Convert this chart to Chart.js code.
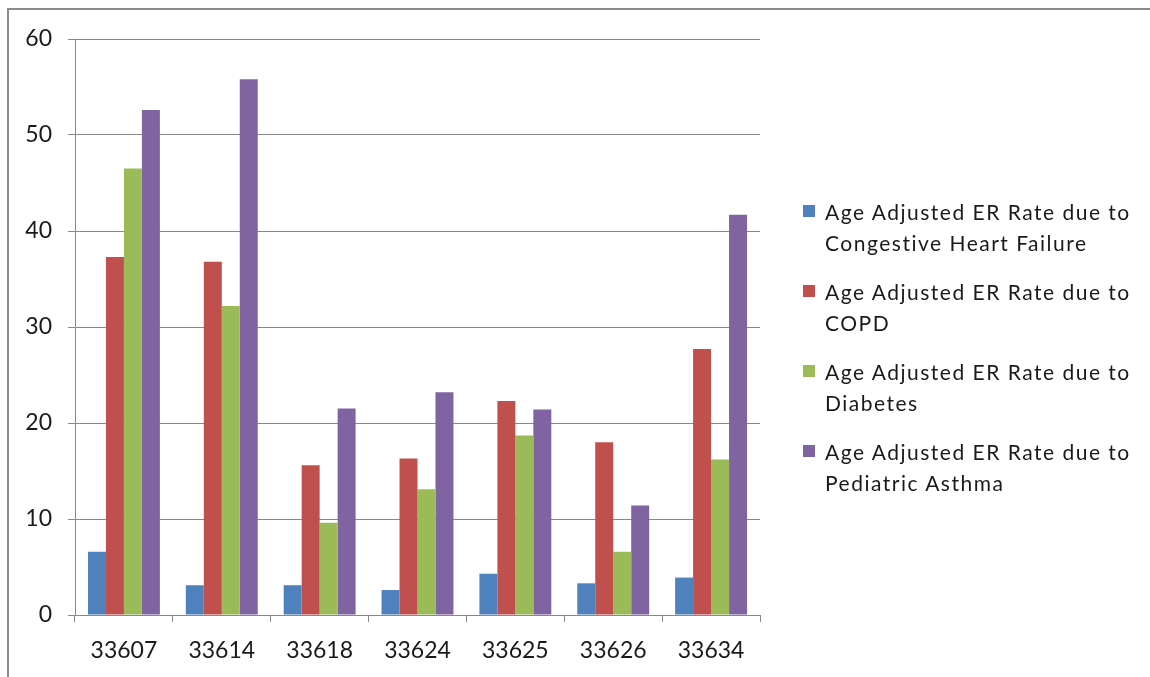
<!DOCTYPE html>
<html>
<head>
<meta charset="utf-8">
<script src="https://cdn.jsdelivr.net/npm/chart.js@4"></script>
<style>
  html, body { margin: 0; padding: 0; background: #fff; }
  #wrap { position: relative; width: 1150px; height: 677px; overflow: hidden; }
  #frame { position: absolute; left: 7px; top: 8px; width: 1200px; height: 700px; border: 2px solid #8c8c8c; box-sizing: border-box; }
  #chart { position: absolute; left: 0; top: 0; }
  #legend { position: absolute; left: 803px; top: 196px; font-family: Lato, "Liberation Sans", sans-serif; font-size: 21px; letter-spacing: 1.5px; color: #1a1a1a; }
  .item { display: flex; align-items: flex-start; height: 80px; }
  .swatch { width: 12px; height: 12px; margin-top: 9px; margin-right: 10px; flex: none; }
  .txt { line-height: 31px; }
</style>
</head>
<body>
<div id="wrap">
  <div id="frame"></div>
  <canvas id="chart" width="1150" height="677"></canvas>
  <div id="legend"></div>
</div>
<script>
// zip codes along the x axis
const zipCodes = ['33607', '33614', '33618', '33624', '33625', '33626', '33634'];

const seriesNames = [
  ['Age Adjusted ER Rate due to', 'Congestive Heart Failure'],
  ['Age Adjusted ER Rate due to', 'COPD'],
  ['Age Adjusted ER Rate due to', 'Diabetes'],
  ['Age Adjusted ER Rate due to', 'Pediatric Asthma'],
];

const heartFailure = [6.6, 3.1, 3.1, 2.6, 4.3, 3.3, 3.9];
const copd = [37.3, 36.8, 15.6, 16.3, 22.3, 18.0, 27.7];
const diabetes = [46.5, 32.2, 9.6, 13.1, 18.7, 6.6, 16.2];
const pediatricAsthma = [52.6, 55.8, 21.5, 23.2, 21.4, 11.4, 41.7];

const seriesColors = ['#4F81BD', '#C0504D', '#9BBB59', '#8064A2'];
const seriesValues = [heartFailure, copd, diabetes, pediatricAsthma];

const gridGray = '#888888';
const tickFont = { family: 'Lato, "Liberation Sans", sans-serif', size: 23 };

const datasets = seriesValues.map((vals, i) => ({
  label: seriesNames[i].join(' '),
  data: vals,
  backgroundColor: seriesColors[i],
  borderWidth: 0,
  categoryPercentage: 0.735,
  barPercentage: 1.0,
}));

new Chart(document.getElementById('chart'), {
  type: 'bar',
  data: { labels: zipCodes, datasets },
  options: {
    responsive: false,
    animation: false,
    layout: { padding: { top: 39, right: 390, left: 0, bottom: 0 } },
    plugins: {
      legend: { display: false },
      tooltip: { enabled: false },
    },
    scales: {
      x: {
        grid: { drawOnChartArea: false, drawTicks: true, tickLength: 7, color: gridGray, offset: true },
        border: { color: gridGray, width: 1 },
        ticks: { color: '#1a1a1a', font: tickFont, padding: 15 },
        afterFit: (s) => { s.height = 62; },
      },
      y: {
        min: 0,
        max: 60,
        ticks: { stepSize: 10, color: '#1a1a1a', font: tickFont, padding: 16 },
        grid: { color: gridGray, tickLength: 7, lineWidth: 1 },
        border: { color: gridGray, width: 1 },
        afterFit: (s) => { s.width = 75; },
      },
    },
  },
});

// html legend, two-line labels like the original
const legendEl = document.getElementById('legend');
seriesNames.forEach((lines, i) => {
  const item = document.createElement('div');
  item.className = 'item';
  const sw = document.createElement('div');
  sw.className = 'swatch';
  sw.style.background = seriesColors[i];
  const txt = document.createElement('div');
  txt.className = 'txt';
  txt.innerHTML = lines.join('<br>');
  item.appendChild(sw);
  item.appendChild(txt);
  legendEl.appendChild(item);
});
</script>
</body>
</html>
